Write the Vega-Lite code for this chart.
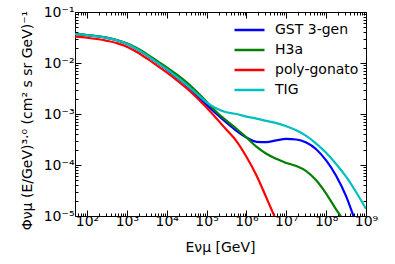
{
  "$schema": "https://vega.github.io/schema/vega-lite/v6.json",
  "autosize": {"type": "none"},
  "width": 291,
  "height": 204,
  "padding": {"left": 75, "top": 12, "right": 29, "bottom": 48},
  "config": {
    "font": "DejaVu Sans",
    "view": {"stroke": "#000000", "strokeWidth": 1},
    "axis": {"grid": false, "domain": false, "tickColor": "#000000", "labelColor": "#000000", "titleColor": "#000000", "labelFont": "DejaVu Sans", "titleFont": "DejaVu Sans", "titleFontWeight": "normal"}
  },
  "data": {"values": [
    {"E": 50, "flux": 0.03707, "model": "GST 3-gen"},
    {"E": 100, "flux": 0.03532, "model": "GST 3-gen"},
    {"E": 177.8, "flux": 0.0335, "model": "GST 3-gen"},
    {"E": 316.2, "flux": 0.03105, "model": "GST 3-gen"},
    {"E": 562.3, "flux": 0.02786, "model": "GST 3-gen"},
    {"E": 1000, "flux": 0.02371, "model": "GST 3-gen"},
    {"E": 1778, "flux": 0.01884, "model": "GST 3-gen"},
    {"E": 3162, "flux": 0.01413, "model": "GST 3-gen"},
    {"E": 5623, "flux": 0.01035, "model": "GST 3-gen"},
    {"E": 10000, "flux": 0.0075, "model": "GST 3-gen"},
    {"E": 17783, "flux": 0.005248, "model": "GST 3-gen"},
    {"E": 31623, "flux": 0.003631, "model": "GST 3-gen"},
    {"E": 56234, "flux": 0.002344, "model": "GST 3-gen"},
    {"E": 100000, "flux": 0.001514, "model": "GST 3-gen"},
    {"E": 177828, "flux": 0.001, "model": "GST 3-gen"},
    {"E": 316228, "flux": 0.000676, "model": "GST 3-gen"},
    {"E": 562341, "flux": 0.000468, "model": "GST 3-gen"},
    {"E": 1000000, "flux": 0.000347, "model": "GST 3-gen"},
    {"E": 1778279, "flux": 0.000285, "model": "GST 3-gen"},
    {"E": 3162278, "flux": 0.000282, "model": "GST 3-gen"},
    {"E": 5623413, "flux": 0.000305, "model": "GST 3-gen"},
    {"E": 10000000, "flux": 0.000324, "model": "GST 3-gen"},
    {"E": 17782794, "flux": 0.000316, "model": "GST 3-gen"},
    {"E": 31622777, "flux": 0.000275, "model": "GST 3-gen"},
    {"E": 56234133, "flux": 0.000204, "model": "GST 3-gen"},
    {"E": 100000000, "flux": 0.000123, "model": "GST 3-gen"},
    {"E": 177827941, "flux": 0.0000617, "model": "GST 3-gen"},
    {"E": 316227766, "flux": 0.0000245, "model": "GST 3-gen"},
    {"E": 562341325, "flux": 0.00000708, "model": "GST 3-gen"},

    {"E": 50, "flux": 0.03673, "model": "H3a"},
    {"E": 100, "flux": 0.03532, "model": "H3a"},
    {"E": 177.8, "flux": 0.03373, "model": "H3a"},
    {"E": 316.2, "flux": 0.03141, "model": "H3a"},
    {"E": 562.3, "flux": 0.02831, "model": "H3a"},
    {"E": 1000, "flux": 0.02443, "model": "H3a"},
    {"E": 1778, "flux": 0.01972, "model": "H3a"},
    {"E": 3162, "flux": 0.01496, "model": "H3a"},
    {"E": 5623, "flux": 0.01109, "model": "H3a"},
    {"E": 10000, "flux": 0.008222, "model": "H3a"},
    {"E": 17783, "flux": 0.005957, "model": "H3a"},
    {"E": 31623, "flux": 0.004169, "model": "H3a"},
    {"E": 56234, "flux": 0.002754, "model": "H3a"},
    {"E": 100000, "flux": 0.001738, "model": "H3a"},
    {"E": 177828, "flux": 0.001096, "model": "H3a"},
    {"E": 316228, "flux": 0.000741, "model": "H3a"},
    {"E": 562341, "flux": 0.000513, "model": "H3a"},
    {"E": 1000000, "flux": 0.000347, "model": "H3a"},
    {"E": 1778279, "flux": 0.000229, "model": "H3a"},
    {"E": 3162278, "flux": 0.000166, "model": "H3a"},
    {"E": 5623413, "flux": 0.000132, "model": "H3a"},
    {"E": 10000000, "flux": 0.0001096, "model": "H3a"},
    {"E": 17782794, "flux": 0.0000955, "model": "H3a"},
    {"E": 31622777, "flux": 0.0000759, "model": "H3a"},
    {"E": 56234133, "flux": 0.0000501, "model": "H3a"},
    {"E": 100000000, "flux": 0.0000275, "model": "H3a"},
    {"E": 177827941, "flux": 0.0000135, "model": "H3a"},
    {"E": 316227766, "flux": 0.00000708, "model": "H3a"},

    {"E": 50, "flux": 0.03281, "model": "poly-gonato"},
    {"E": 100, "flux": 0.03126, "model": "poly-gonato"},
    {"E": 177.8, "flux": 0.02951, "model": "poly-gonato"},
    {"E": 316.2, "flux": 0.02723, "model": "poly-gonato"},
    {"E": 562.3, "flux": 0.02455, "model": "poly-gonato"},
    {"E": 1000, "flux": 0.02089, "model": "poly-gonato"},
    {"E": 1778, "flux": 0.01641, "model": "poly-gonato"},
    {"E": 3162, "flux": 0.0123, "model": "poly-gonato"},
    {"E": 5623, "flux": 0.009016, "model": "poly-gonato"},
    {"E": 10000, "flux": 0.006531, "model": "poly-gonato"},
    {"E": 17783, "flux": 0.004624, "model": "poly-gonato"},
    {"E": 31623, "flux": 0.003199, "model": "poly-gonato"},
    {"E": 56234, "flux": 0.002113, "model": "poly-gonato"},
    {"E": 100000, "flux": 0.001334, "model": "poly-gonato"},
    {"E": 177828, "flux": 0.000813, "model": "poly-gonato"},
    {"E": 316228, "flux": 0.00049, "model": "poly-gonato"},
    {"E": 562341, "flux": 0.000295, "model": "poly-gonato"},
    {"E": 1000000, "flux": 0.000145, "model": "poly-gonato"},
    {"E": 1778279, "flux": 0.0000631, "model": "poly-gonato"},
    {"E": 3162278, "flux": 0.0000229, "model": "poly-gonato"},
    {"E": 5623413, "flux": 0.00000813, "model": "poly-gonato"},

    {"E": 50, "flux": 0.03707, "model": "TIG"},
    {"E": 100, "flux": 0.03532, "model": "TIG"},
    {"E": 177.8, "flux": 0.0335, "model": "TIG"},
    {"E": 316.2, "flux": 0.03105, "model": "TIG"},
    {"E": 562.3, "flux": 0.02786, "model": "TIG"},
    {"E": 1000, "flux": 0.02371, "model": "TIG"},
    {"E": 1778, "flux": 0.01884, "model": "TIG"},
    {"E": 3162, "flux": 0.01413, "model": "TIG"},
    {"E": 5623, "flux": 0.01035, "model": "TIG"},
    {"E": 10000, "flux": 0.007586, "model": "TIG"},
    {"E": 17783, "flux": 0.005370, "model": "TIG"},
    {"E": 31623, "flux": 0.003715, "model": "TIG"},
    {"E": 56234, "flux": 0.002512, "model": "TIG"},
    {"E": 100000, "flux": 0.001698, "model": "TIG"},
    {"E": 177828, "flux": 0.001288, "model": "TIG"},
    {"E": 316228, "flux": 0.001084, "model": "TIG"},
    {"E": 562341, "flux": 0.001, "model": "TIG"},
    {"E": 1000000, "flux": 0.000891, "model": "TIG"},
    {"E": 1778279, "flux": 0.000813, "model": "TIG"},
    {"E": 3162278, "flux": 0.000733, "model": "TIG"},
    {"E": 5623413, "flux": 0.000661, "model": "TIG"},
    {"E": 10000000, "flux": 0.000575, "model": "TIG"},
    {"E": 17782794, "flux": 0.000479, "model": "TIG"},
    {"E": 31622777, "flux": 0.000372, "model": "TIG"},
    {"E": 56234133, "flux": 0.000263, "model": "TIG"},
    {"E": 100000000, "flux": 0.000174, "model": "TIG"},
    {"E": 177827941, "flux": 0.0001047, "model": "TIG"},
    {"E": 316227766, "flux": 0.0000589, "model": "TIG"},
    {"E": 562341325, "flux": 0.0000295, "model": "TIG"},
    {"E": 1000000000, "flux": 0.0000138, "model": "TIG"}
  ]},
  "encoding": {
    "x": {"field": "E", "type": "quantitative", "scale": {"type": "log", "domain": [50, 1000000000], "nice": false}},
    "y": {"field": "flux", "type": "quantitative", "scale": {"type": "log", "domain": [0.00001, 0.1], "nice": false}}
  },
  "layer": [
    {
      "mark": {"type": "line", "strokeWidth": 2.2, "interpolate": "monotone", "clip": true},
      "encoding": {
        "x": {"field": "E", "type": "quantitative",
          "axis": {"orient": "bottom", "values": [100, 1000, 10000, 100000, 1000000, 10000000, 100000000, 1000000000],
            "labelExpr": "'10' + substring('⁰¹²³⁴⁵⁶⁷⁸⁹', round(log(datum.value)/LN10), round(log(datum.value)/LN10)+1)",
            "tickSize": -6, "labelPadding": 4, "labelFontSize": 14, "labelFlush": false,
            "title": "Eνμ [GeV]", "titleFontSize": 14, "titleX": 145, "titleY": 31, "titleBaseline": "middle"}},
        "y": {"field": "flux", "type": "quantitative",
          "axis": {"orient": "left", "values": [0.00001, 0.0001, 0.001, 0.01, 0.1],
            "labelExpr": "'10⁻' + substring('⁰¹²³⁴⁵⁶⁷⁸⁹', -round(log(datum.value)/LN10), -round(log(datum.value)/LN10)+1)",
            "tickSize": -6, "labelPadding": 7, "labelFontSize": 14, "labelFlush": false,
            "title": "Φνμ (E/GeV)³·⁰ (cm² s sr GeV)⁻¹", "titleFontSize": 14, "titleX": -48, "titleY": 108, "titleBaseline": "middle", "titleAlign": "center", "titleAngle": -90}},
        "color": {"field": "model", "type": "nominal",
          "scale": {"domain": ["GST 3-gen", "H3a", "poly-gonato", "TIG"], "range": ["#0000ff", "#008000", "#ff0000", "#00bfbf"]},
          "legend": {"title": null, "orient": "none", "legendX": 158, "legendY": 10, "padding": 0,
            "symbolType": "stroke", "symbolSize": 900, "symbolStrokeWidth": 2.5, "clipHeight": 16, "rowPadding": 4,
            "labelFontSize": 14, "labelOffset": 9, "labelColor": "#000000", "labelFont": "DejaVu Sans"}}
      }
    },
    {
      "mark": {"type": "point", "opacity": 0},
      "encoding": {
        "x": {"field": "E", "type": "quantitative",
          "axis": {"orient": "bottom", "labels": false, "title": null, "tickSize": -3,
            "values": [60, 70, 80, 90, 200, 300, 400, 500, 600, 700, 800, 900, 2000, 3000, 4000, 5000, 6000, 7000, 8000, 9000, 20000, 30000, 40000, 50000, 60000, 70000, 80000, 90000, 200000, 300000, 400000, 500000, 600000, 700000, 800000, 900000, 2000000, 3000000, 4000000, 5000000, 6000000, 7000000, 8000000, 9000000, 20000000, 30000000, 40000000, 50000000, 60000000, 70000000, 80000000, 90000000, 200000000, 300000000, 400000000, 500000000, 600000000, 700000000, 800000000, 900000000]}},
        "y": {"field": "flux", "type": "quantitative",
          "axis": {"orient": "left", "labels": false, "title": null, "tickSize": -3,
            "values": [0.00002, 0.00003, 0.00004, 0.00005, 0.00006, 0.00007, 0.00008, 0.00009, 0.0002, 0.0003, 0.0004, 0.0005, 0.0006, 0.0007, 0.0008, 0.0009, 0.002, 0.003, 0.004, 0.005, 0.006, 0.007, 0.008, 0.009, 0.02, 0.03, 0.04, 0.05, 0.06, 0.07, 0.08, 0.09]}}
      }
    },
    {
      "mark": {"type": "point", "opacity": 0},
      "encoding": {
        "x": {"field": "E", "type": "quantitative",
          "axis": {"orient": "top", "labels": false, "title": null, "tickSize": -6,
            "values": [100, 1000, 10000, 100000, 1000000, 10000000, 100000000, 1000000000]}},
        "y": {"field": "flux", "type": "quantitative",
          "axis": {"orient": "right", "labels": false, "title": null, "tickSize": -6,
            "values": [0.00001, 0.0001, 0.001, 0.01, 0.1]}}
      }
    },
    {
      "mark": {"type": "point", "opacity": 0},
      "encoding": {
        "x": {"field": "E", "type": "quantitative",
          "axis": {"orient": "top", "labels": false, "title": null, "tickSize": -3,
            "values": [60, 70, 80, 90, 200, 300, 400, 500, 600, 700, 800, 900, 2000, 3000, 4000, 5000, 6000, 7000, 8000, 9000, 20000, 30000, 40000, 50000, 60000, 70000, 80000, 90000, 200000, 300000, 400000, 500000, 600000, 700000, 800000, 900000, 2000000, 3000000, 4000000, 5000000, 6000000, 7000000, 8000000, 9000000, 20000000, 30000000, 40000000, 50000000, 60000000, 70000000, 80000000, 90000000, 200000000, 300000000, 400000000, 500000000, 600000000, 700000000, 800000000, 900000000]}},
        "y": {"field": "flux", "type": "quantitative",
          "axis": {"orient": "right", "labels": false, "title": null, "tickSize": -3,
            "values": [0.00002, 0.00003, 0.00004, 0.00005, 0.00006, 0.00007, 0.00008, 0.00009, 0.0002, 0.0003, 0.0004, 0.0005, 0.0006, 0.0007, 0.0008, 0.0009, 0.002, 0.003, 0.004, 0.005, 0.006, 0.007, 0.008, 0.009, 0.02, 0.03, 0.04, 0.05, 0.06, 0.07, 0.08, 0.09]}}
      }
    }
  ],
  "resolve": {"axis": {"x": "independent", "y": "independent"}}
}
